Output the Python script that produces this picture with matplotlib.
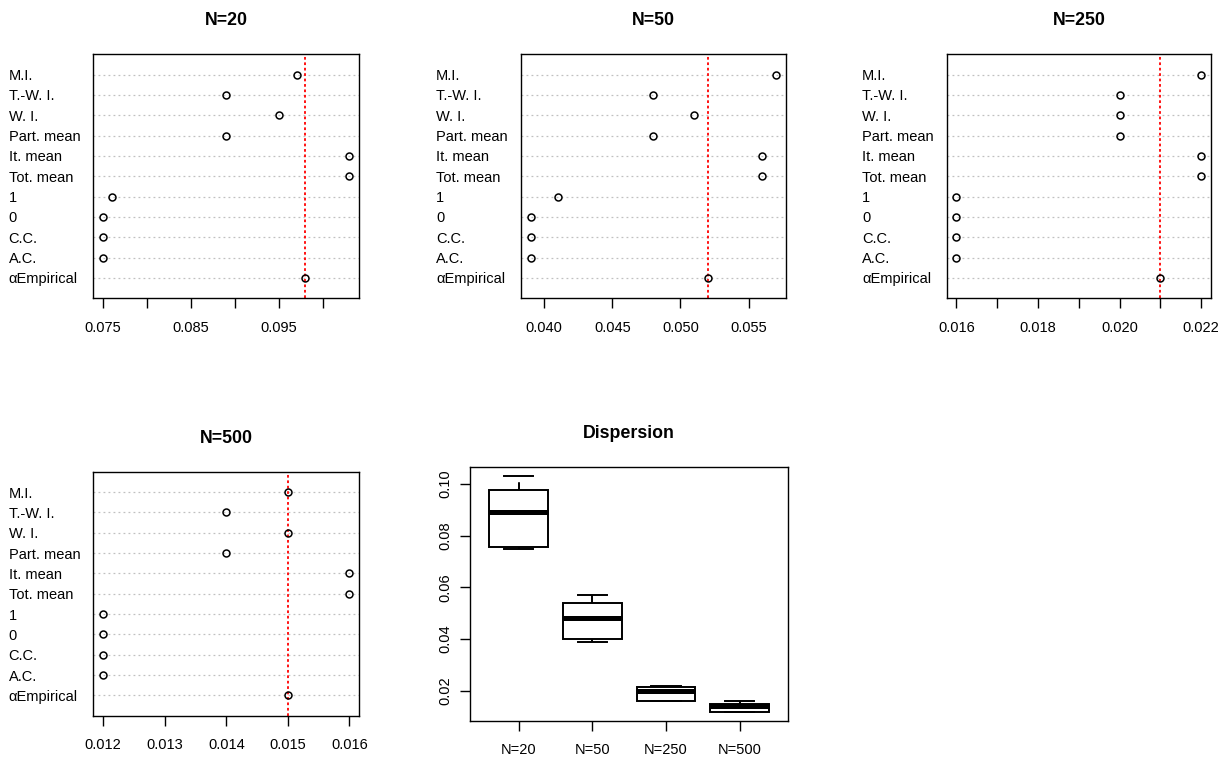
import numpy as np
import matplotlib.pyplot as plt
from matplotlib.ticker import FixedLocator

plt.rcParams['font.family'] = ['Liberation Sans', 'DejaVu Sans']

# methods, top row first
methods = ["M.I.", "T.-W. I.", "W. I.", "Part. mean", "It. mean", "Tot. mean",
           "1", "0", "C.C.", "A.C.", "\u03b1Empirical"]

n20 = [0.097, 0.089, 0.095, 0.089, 0.103, 0.103, 0.076, 0.075, 0.075, 0.075, 0.098]
n50 = [0.057, 0.048, 0.051, 0.048, 0.056, 0.056, 0.041, 0.039, 0.039, 0.039, 0.052]
n250 = [0.022, 0.020, 0.020, 0.020, 0.022, 0.022, 0.016, 0.016, 0.016, 0.016, 0.021]
n500 = [0.015, 0.014, 0.015, 0.014, 0.016, 0.016, 0.012, 0.012, 0.012, 0.012, 0.015]

sizes = ["N=20", "N=50", "N=250", "N=500"]

# x ticks and which of them carry a label
ticks20 = [0.075, 0.080, 0.085, 0.090, 0.095, 0.100]
labs20 = ["0.075", "", "0.085", "", "0.095", ""]
ticks50 = [0.040, 0.045, 0.050, 0.055]
labs50 = ["0.040", "0.045", "0.050", "0.055"]
ticks250 = [0.016, 0.017, 0.018, 0.019, 0.020, 0.021, 0.022]
labs250 = ["0.016", "", "0.018", "", "0.020", "", "0.022"]
ticks500 = [0.012, 0.013, 0.014, 0.015, 0.016]
labs500 = ["0.012", "0.013", "0.014", "0.015", "0.016"]

FS = 10.5
W, H = 1225, 758
fig = plt.figure(figsize=(W / 100, H / 100), dpi=100)


def px_axes(left, top, right, bottom):
    return fig.add_axes([left / W, 1 - bottom / H, (right - left) / W, (bottom - top) / H])


def dotchart(ax, vals, ticks, labs, title):
    vals = np.asarray(vals)
    ypos = np.arange(len(vals), 0, -1)
    for y in ypos:
        ax.axhline(y, color='#c0c0c0', lw=0.9, ls=(0, (1.5, 2.5)), zorder=1)
    ax.axvline(vals[-1], color='red', lw=1.3, ls=(0, (1.5, 1.5)), zorder=2)
    ax.plot(vals, ypos, 'o', mfc='none', mec='black', ms=5, mew=1.1, zorder=3)
    lo, hi = vals.min(), vals.max()
    ext = (hi - lo) * 0.04
    ax.set_xlim(lo - ext, hi + ext)
    ax.set_ylim(0, len(vals) + 1)
    ax.set_yticks(ypos)
    ax.set_yticklabels(methods, ha='left', fontsize=FS)
    ax.tick_params(axis='y', length=0, pad=61)
    ax.xaxis.set_major_locator(FixedLocator(ticks))
    ax.set_xticklabels(labs, fontsize=FS)
    ax.tick_params(axis='x', length=7, width=1, pad=9)
    ax.set_title(title, fontsize=12.8, fontweight='bold', pad=21)
    for s in ax.spines.values():
        s.set_linewidth(1.0)


ax1 = px_axes(93.3, 54.3, 359.3, 298.3)
ax2 = px_axes(520.7, 54.3, 785.7, 298.3)
ax3 = px_axes(946.7, 54.3, 1211, 298.3)
ax4 = px_axes(93.3, 471.7, 359.3, 715.7)

dotchart(ax1, n20, ticks20, labs20, "N=20")
dotchart(ax2, n50, ticks50, labs50, "N=50")
dotchart(ax3, n250, ticks250, labs250, "N=250")
dotchart(ax4, n500, ticks500, labs500, "N=500")

# box plot of all methods per sample size
ax5 = px_axes(470, 466.7, 788.3, 721)
groups = [n20, n50, n250, n500]
ax5.boxplot(groups, widths=0.8, capwidths=0.4, whis=1.5, patch_artist=True,
            boxprops=dict(facecolor='white', edgecolor='black', lw=1.4),
            whiskerprops=dict(color='black', lw=1.4, ls=(0, (4, 3))),
            capprops=dict(color='black', lw=1.4),
            medianprops=dict(color='black', lw=3.6, solid_capstyle='butt'),
            flierprops=dict(marker='o', mfc='none', mec='black', ms=5))
allv = np.concatenate(groups)
ext = (allv.max() - allv.min()) * 0.04
ax5.set_ylim(allv.min() - ext, allv.max() + ext)
ax5.set_xlim(0.34, 4.66)
ax5.set_xticks([1, 2, 3, 4])
ax5.set_xticklabels(sizes, fontsize=FS)
ax5.set_yticks([0.02, 0.04, 0.06, 0.08, 0.10])
ax5.set_yticklabels(["0.02", "0.04", "0.06", "0.08", "0.10"], fontsize=FS,
                    rotation=90, va='center')
ax5.tick_params(axis='x', length=7, width=1, pad=9)
ax5.tick_params(axis='y', length=7, width=1, pad=6)
ax5.set_title("Dispersion", fontsize=12.8, fontweight='bold', pad=21)
for s in ax5.spines.values():
    s.set_linewidth(1.0)

fig.savefig("out.png", dpi=100)
